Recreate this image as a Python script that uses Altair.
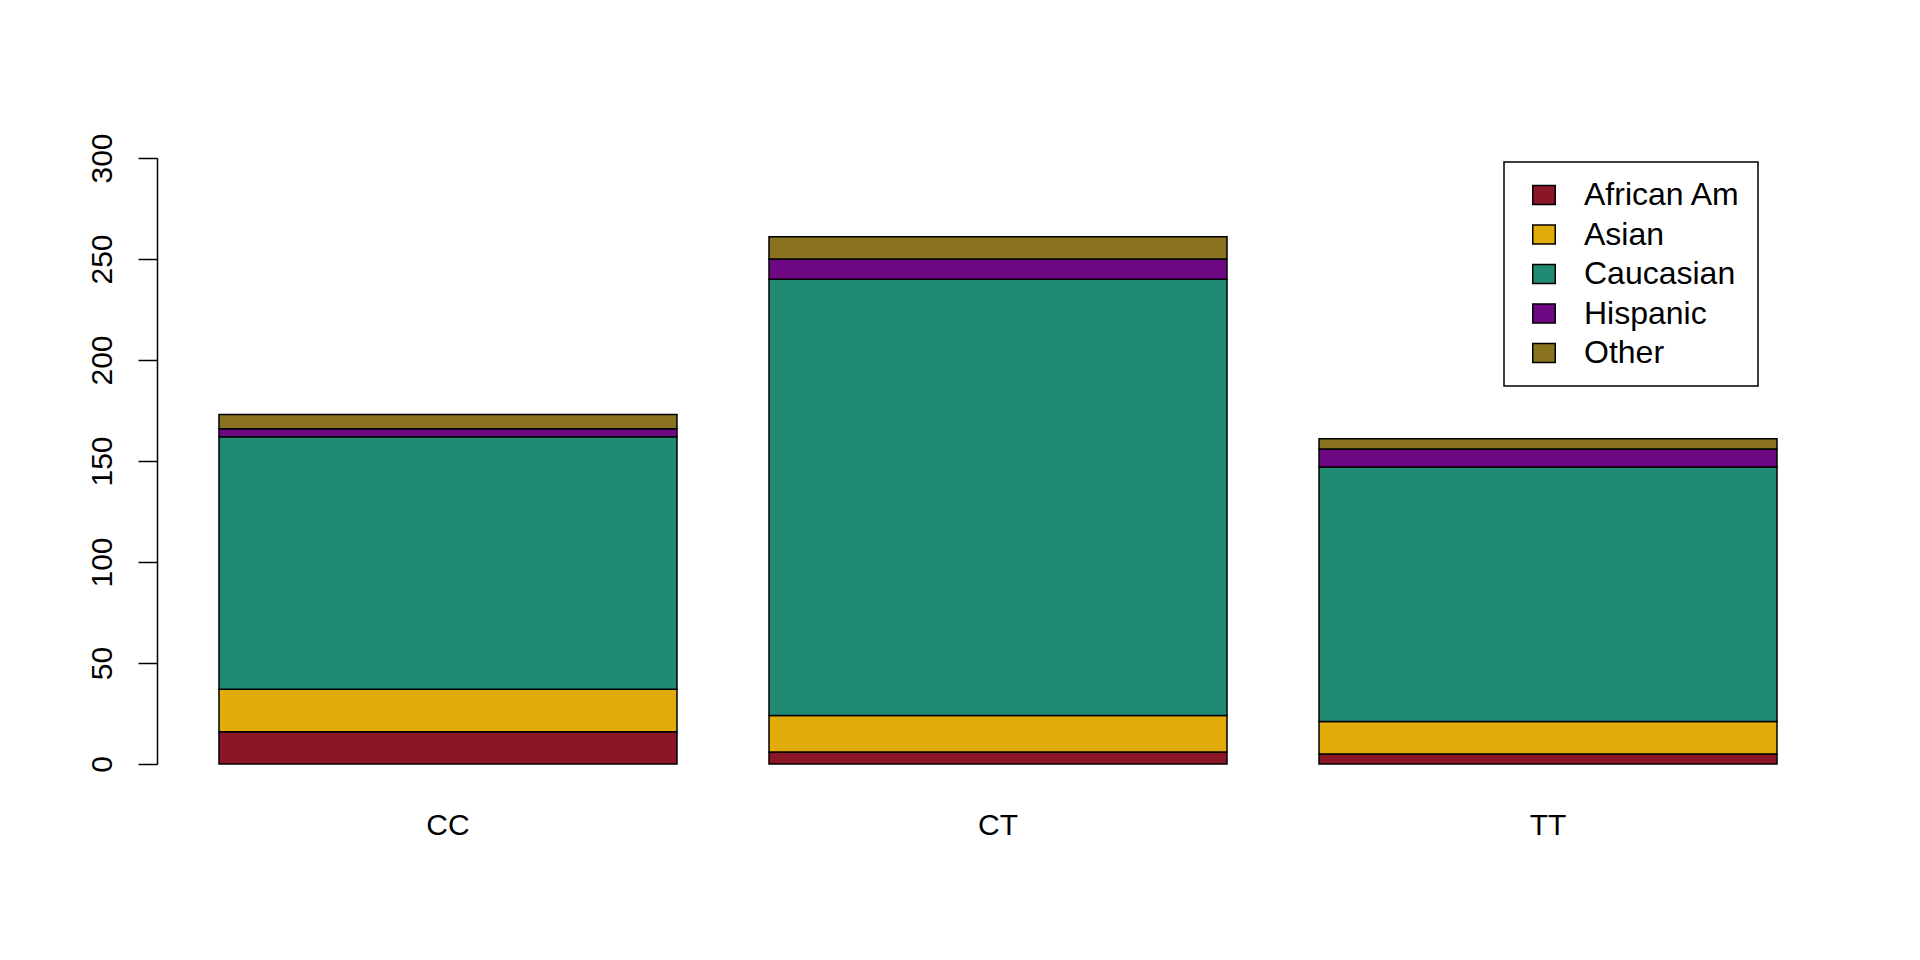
import altair as alt
import pandas as pd

genotypes = ["CC", "CT", "TT"]
groups = ["African Am", "Asian", "Caucasian", "Hispanic", "Other"]
colors = ["#8A1628", "#E1AC0A", "#208B72", "#6E0782", "#8A731E"]
african_am = [16, 6, 5]
asian = [21, 18, 16]
caucasian = [125, 216, 126]
hispanic = [4, 10, 9]
other = [7, 11, 5]
y_ticks = [0, 50, 100, 150, 200, 250, 300]

series = [african_am, asian, caucasian, hispanic, other]
rows = []
for gi, (g, vals) in enumerate(zip(groups, series)):
    for geno, v in zip(genotypes, vals):
        rows.append({"genotype": geno, "group": g, "count": v, "idx": gi})
df = pd.DataFrame(rows)

FONT = "Liberation Sans"
RECT = "M-1,-0.85L1,-0.85L1,0.85L-1,0.85Z"

chart = alt.Chart(df).mark_bar(stroke="black", strokeWidth=1.5).encode(
    x=alt.X("genotype:N", sort=genotypes,
            scale=alt.Scale(paddingInner=0.1673, paddingOuter=0.1127),
            axis=alt.Axis(title=None, labelAngle=0, domain=False, ticks=False, tickSize=0,
                          labelPadding=46, labelBaseline="top", labelFontSize=30,
                          labelFont=FONT, labelColor="black")),
    y=alt.Y("count:Q", stack="zero",
            scale=alt.Scale(domain=[0, 300], nice=False, zero=True),
            axis=alt.Axis(title=None, values=y_ticks, grid=False, domainColor="black",
                          domainWidth=1.5, tickColor="black", tickWidth=1.5, tickSize=19,
                          labelAngle=270, labelAlign="center", labelBaseline="bottom",
                          labelPadding=21, labelFontSize=30, labelFont=FONT,
                          labelColor="black")),
    color=alt.Color("group:N", sort=groups,
                    scale=alt.Scale(domain=groups, range=colors),
                    legend=alt.Legend(title=None, orient="none", legendX=1347, legendY=4,
                                      symbolType=RECT, symbolSize=506, symbolOffset=7,
                                      symbolStrokeColor="black", symbolStrokeWidth=1.5,
                                      symbolOpacity=1,
                                      labelFontSize=32, labelFont=FONT, labelColor="black",
                                      labelOffset=24, rowPadding=7.5, padding=17,
                                      strokeColor="black")),
    order=alt.Order("idx:Q", sort="ascending"),
).properties(
    width=1682, height=606,
    background="white",
    autosize=alt.AutoSizeParams(type="none"),
    padding={"left": 157, "top": 158, "right": 81, "bottom": 196},
).configure_view(strokeWidth=0, stroke="transparent").configure_legend(strokeWidth=1.5)

chart.save("out.html", embed_options={"renderer": "svg", "actions": False})
